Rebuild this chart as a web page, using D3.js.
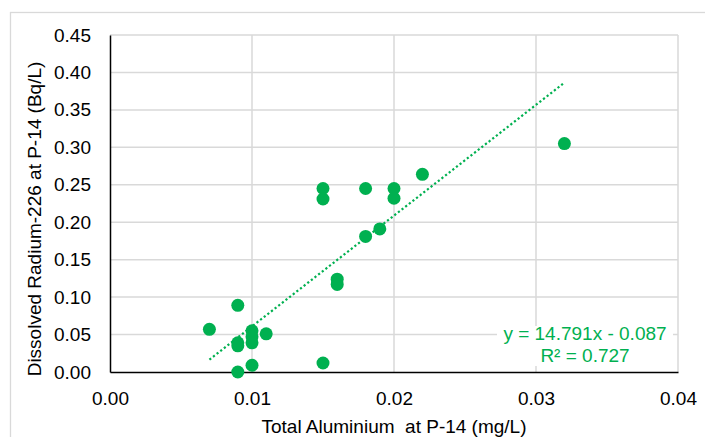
<!DOCTYPE html>
<html>
<head>
<meta charset="utf-8">
<script src="https://cdn.jsdelivr.net/npm/d3@7"></script>
<style>
    body { margin: 0; background: #fff; }
    text { font-family: "Liberation Sans", Arial, sans-serif; }
</style>
</head>
<body>
<div id="chart"></div>
<script>
// Total aluminium at P-14 (mg/L)
const aluminium = [0.007, 0.009, 0.009, 0.009, 0.009, 0.010, 0.010, 0.010, 0.010, 0.011,
    0.015, 0.015, 0.015, 0.016, 0.016, 0.018, 0.018, 0.019, 0.020, 0.020, 0.022, 0.032];
// Dissolved radium-226 at P-14 (Bq/L)
const radium = [0.057, 0.089, 0.039, 0.035, 0.000, 0.055, 0.047, 0.039, 0.009, 0.051,
    0.245, 0.231, 0.012, 0.124, 0.117, 0.245, 0.181, 0.191, 0.245, 0.232, 0.264, 0.305];

const xTicks = [0, 0.01, 0.02, 0.03, 0.04];
const yTicks = [0, 0.05, 0.10, 0.15, 0.20, 0.25, 0.30, 0.35, 0.40, 0.45];

// linear trend shown on the chart
const slope = 14.791;
const intercept = -0.087;
const trendLabel = ["y = 14.791x - 0.087", "R² = 0.727"];

const width = 705;
const height = 437;
const margin = { top: 35, right: 27, bottom: 65, left: 110 };
const green = "#00b050";
const grid = "#d9d9d9";

const svg = d3.select("#chart").append("svg")
    .attr("width", width)
    .attr("height", height);

// рамка всего графика
svg.append("rect")
    .attr("x", 10.5).attr("y", 12.5)
    .attr("width", width).attr("height", height)
    .attr("fill", "none")
    .attr("stroke", grid)
    .attr("stroke-width", 1.3);

const x = d3.scaleLinear().domain([0, 0.04]).range([margin.left, width - margin.right]);
const y = d3.scaleLinear().domain([0, 0.45]).range([height - margin.bottom, margin.top]);

// сетка
svg.append("g").selectAll("line")
    .data(yTicks.slice(1))
    .join("line")
    .attr("x1", x(0)).attr("x2", x(0.04))
    .attr("y1", d => y(d)).attr("y2", d => y(d))
    .attr("stroke", grid).attr("stroke-width", 1.5);

svg.append("g").selectAll("line")
    .data(xTicks.slice(1))
    .join("line")
    .attr("x1", d => x(d)).attr("x2", d => x(d))
    .attr("y1", y(0)).attr("y2", y(0.45))
    .attr("stroke", grid).attr("stroke-width", 1.5);

// оси
const xAxis = svg.append("g")
    .attr("transform", `translate(0,${y(0)})`)
    .call(d3.axisBottom(x).tickValues(xTicks).tickFormat(d3.format(".2f")).tickSize(0).tickPadding(20));
const yAxis = svg.append("g")
    .attr("transform", `translate(${x(0)},0)`)
    .call(d3.axisLeft(y).tickValues(yTicks).tickFormat(d3.format(".2f")).tickSize(0).tickPadding(19));

[xAxis, yAxis].forEach(a => {
    a.select(".domain").attr("stroke", "#000").attr("stroke-width", 1.5);
    a.selectAll("text")
        .attr("font-size", 19)
        .attr("font-family", "Liberation Sans, Arial, sans-serif")
        .attr("fill", "#000");
});

// линия тренда
const xExt = d3.extent(aluminium);
svg.append("path")
    .datum(xExt)
    .attr("fill", "none")
    .attr("stroke", green)
    .attr("stroke-width", 2.2)
    .attr("stroke-dasharray", "2.2 2.4")
    .attr("d", d3.line().x(d => x(d)).y(d => y(slope * d + intercept)));

// точки
svg.append("g").selectAll("circle")
    .data(aluminium.map((v, i) => [v, radium[i]]))
    .join("circle")
    .attr("cx", d => x(d[0]))
    .attr("cy", d => y(d[1]))
    .attr("r", 6.5)
    .attr("fill", green);

// подпись уравнения на белом фоне
svg.append("rect")
    .attr("x", 497).attr("y", 326)
    .attr("width", 176).attr("height", 40)
    .attr("fill", "#fff");

svg.append("text")
    .attr("x", 585)
    .attr("text-anchor", "middle")
    .attr("font-size", 19)
    .attr("fill", green)
    .selectAll("tspan")
    .data(trendLabel)
    .join("tspan")
    .attr("x", 585)
    .attr("y", (d, i) => 340 + i * 22)
    .text(d => d);

// подписи осей
svg.append("text")
    .attr("x", x(0.02))
    .attr("y", 433)
    .attr("text-anchor", "middle")
    .attr("font-size", 19)
    .style("white-space", "pre")
    .text("Total Aluminium  at P-14 (mg/L)");

svg.append("text")
    .attr("transform", "translate(41,219) rotate(-90)")
    .attr("text-anchor", "middle")
    .attr("font-size", 19)
    .text("Dissolved Radium-226 at P-14 (Bq/L)");
</script>
</body>
</html>
